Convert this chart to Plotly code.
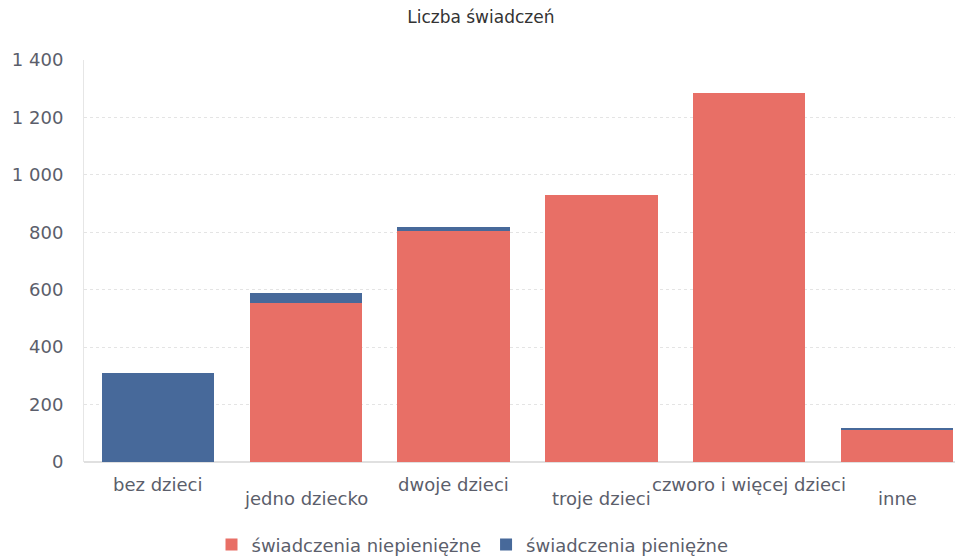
import plotly.graph_objects as go

# dane
kategorie = ["bez dzieci", "jedno dziecko", "dwoje dzieci", "troje dzieci", "czworo i więcej dzieci", "inne"]
niepieniezne = [0, 555, 805, 930, 1285, 112]
pieniezne = [310, 35, 15, 0, 0, 6]
y_ticks = [0, 200, 400, 600, 800, 1000, 1200, 1400]

RED = "#E86F66"
BLUE = "#47699A"
TEXT = "#5B5E6B"

fig = go.Figure()
fig.add_trace(go.Bar(x=kategorie, y=niepieniezne, name="świadczenia niepieniężne", marker=dict(color=RED, line=dict(width=0))))
fig.add_trace(go.Bar(x=kategorie, y=pieniezne, name="świadczenia pieniężne", marker=dict(color=BLUE, line=dict(width=0))))

# etykiety kategorii na przemian (wyżej / niżej)
for i, k in enumerate(kategorie):
    fig.add_annotation(x=k, xref="x", y=0, yref="paper", yanchor="top", text=k, showarrow=False,
                       yshift=-10 if i % 2 == 0 else -24, font=dict(size=18, color=TEXT))

fig.update_layout(
    width=963, height=549,
    margin=dict(l=76, r=0, t=52, b=95, autoexpand=False),
    paper_bgcolor="white", plot_bgcolor="white",
    font=dict(family="DejaVu Sans", size=18, color=TEXT),
    title=dict(text="Liczba świadczeń", x=0.491, xanchor="center", xref="container", y=1.0, yref="container", yanchor="top",
               pad=dict(t=3), font=dict(size=17, color="#333333")),
    barmode="stack", bargap=0.24,
    separators=", ",
    showlegend=True,
    legend=dict(orientation="h", x=0.438, xanchor="center", y=-0.16, yanchor="top",
                font=dict(size=18, color=TEXT), traceorder="normal", itemwidth=30),
    xaxis=dict(showticklabels=False, showgrid=False, showline=False, ticks=""),
    yaxis=dict(range=[0, 1400], tickvals=y_ticks, tickformat=",d", showgrid=True, gridcolor="#e4e4e4",
               griddash="dot", zeroline=True, zerolinecolor="#e0e0e0", showline=True, linecolor="#e6e6e6",
               ticks="", ticklabelstandoff=16, automargin=False),
)

fig.write_html("out.html")
